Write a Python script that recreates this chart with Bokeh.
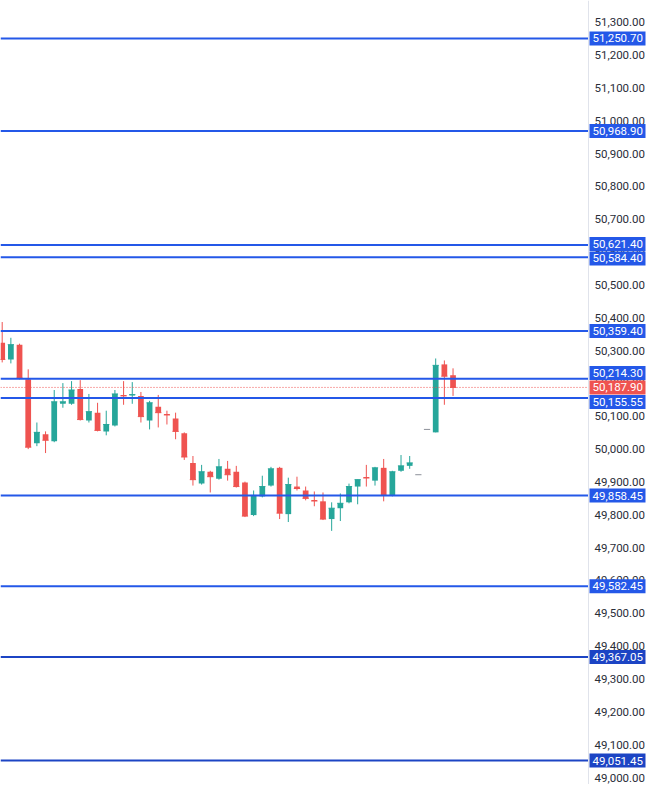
from bokeh.plotting import figure
from bokeh.models import Range1d, Span, ColumnDataSource
from bokeh.core.properties import value
from bokeh.embed import file_html
from bokeh.resources import INLINE

# ---------------- data ----------------
opens = [50324, 50273, 50318, 50213, 50018, 50045, 50024, 50138, 50138, 50183,
         50087, 50111, 50054, 50072, 50165, 50163, 50162, 50087, 50129, 50107,
         50093, 50048, 49958, 49895, 49931, 49910, 49940, 49931, 49898, 49799,
         49856, 49889, 49943, 49802, 49886, 49874, 49845, 49841, 49787, 49820,
         49838, 49886, 49915, 49904, 49943, 49859, 49934, 49949, 49922, 50060,
         50051, 50258, 50225]
closes = [50273, 50318, 50216, 50006, 50051, 50027, 50144, 50144, 50180, 50090,
          50114, 50057, 50075, 50168, 50162, 50166, 50099, 50141, 50111, 50104,
          50054, 49976, 49907, 49931, 49916, 49946, 49922, 49886, 49796, 49859,
          49886, 49940, 49805, 49892, 49880, 49850, 49842, 49787, 49820, 49835,
          49886, 49907, 49912, 49943, 49859, 49931, 49949, 49958, 49922, 50060,
          50255, 50222, 50187.9]
highs = [50387, 50339, 50321, 50243, 50081, 50054, 50180, 50201, 50207, 50210,
         50168, 50141, 50117, 50180, 50207, 50204, 50174, 50147, 50165, 50117,
         50111, 50051, 49979, 49952, 49934, 49970, 49964, 49949, 49901, 49874,
         49919, 49946, 49946, 49913, 49916, 49886, 49871, 49868, 49838, 49865,
         49895, 49907, 49952, 49946, 49970, 49934, 49982, 49979, 49922, 50060,
         50276, 50270, 50246]
lows = [50264, 50261, 50212, 50000, 50009, 49988, 50021, 50126, 50135, 50087,
        50081, 50054, 50042, 50069, 50135, 50138, 50081, 50060, 50066, 50075,
        50030, 49967, 49889, 49892, 49868, 49907, 49904, 49883, 49793, 49796,
        49853, 49886, 49787, 49778, 49874, 49844, 49826, 49784, 49751, 49781,
        49835, 49832, 49886, 49889, 49841, 49856, 49931, 49940, 49922, 50060,
        50051, 50135, 50162]

levels = [51250.70, 50968.90, 50621.40, 50584.40, 50359.40, 50214.30,
          50155.55, 49858.45, 49582.45, 49367.05, 49051.45]
current_price = 50187.90
tick_values = [49000 + 100 * k for k in range(24)]

# ---------------- style / layout ----------------
UP = "#26a69a"
DOWN = "#ef5350"
FLAT = "#8c9099"
LEVEL = "#2458e8"
LEVEL_DARK = "#1c44c4"
dark_levels = [49367.05, 49051.45]
FONT = "Roboto"

W, H = 646, 784
BAR_PX = 8.67          # pixel spacing of candles
X0_PX = 1.7            # pixel position of first candle
DIV_PX = 588           # price-scale divider
y0, y1 = 48978.7, 51366.1


def px_to_x(px):
    return (px - X0_PX) / BAR_PX


x_start, x_end = px_to_x(0), px_to_x(W)
x_div = px_to_x(DIV_PX)
px_per_unit = H / (y1 - y0)

p = figure(width=W, height=H,
           x_range=Range1d(x_start, x_end), y_range=Range1d(y0, y1),
           output_backend="svg", toolbar_location=None,
           x_axis_location=None, y_axis_location=None,
           min_border=0)
p.grid.visible = False
p.outline_line_color = None
p.background_fill_color = "white"
p.border_fill_color = "white"

# candles
idx = list(range(len(opens)))
cols = [UP if c > o else (DOWN if c < o else FLAT) for o, c in zip(opens, closes)]
src = ColumnDataSource(dict(
    x=idx, o=opens, c=closes, h=highs, l=lows, col=cols,
    top=[max(o, c) for o, c in zip(opens, closes)],
    bot=[min(o, c) for o, c in zip(opens, closes)],
    xl=[i - 0.36 for i in idx], xr=[i + 0.36 for i in idx],
))
p.segment(x0="x", y0="h", x1="x", y1="l", color="col", line_width=1, source=src)
p.vbar(x="x", width=0.66, top="top", bottom="bot", fill_color="col",
       line_color=None, source=src)
p.segment(x0="xl", y0="c", x1="xr", y1="c", color="col", line_width=1, source=src)

# level lines (stop at the price scale)
lvl_cols = [LEVEL_DARK if lv in dark_levels else LEVEL for lv in levels]
p.segment(x0=[x_start] * len(levels), x1=[x_div] * len(levels), y0=levels, y1=levels,
          color=lvl_cols, line_width=2)
p.segment(x0=[x_start], x1=[x_div], y0=[current_price], y1=[current_price],
          color=DOWN, line_width=1, line_dash="1 2")

# price scale
p.add_layout(Span(location=x_div, dimension="height", line_color="#e0e3eb", line_width=1))
p.text(x=[px_to_x(DIV_PX + 6)] * len(tick_values), y=tick_values,
       text=[f"{t:,.2f}" for t in tick_values],
       text_font=value(FONT), text_font_size="11.5px", text_color="#2a2e39",
       text_align="left", text_baseline="middle")

# price tags with simple collision avoidance (current price stays fixed)
TAG_H = 14.0
sep = 14.5 / px_per_unit
half = TAG_H / 2 / px_per_unit
tags = [(lv, c, False) for lv, c in zip(levels, lvl_cols)]
tags.append((current_price, DOWN, True))
tags.sort(key=lambda t: t[0])
pos = [t[0] for t in tags]
for _ in range(200):
    for k in range(len(pos) - 1):
        gap = pos[k + 1] - pos[k]
        if gap < sep:
            d = sep - gap
            fa, fb = tags[k][2], tags[k + 1][2]
            if fa:
                pos[k + 1] += d
            elif fb:
                pos[k] -= d
            else:
                pos[k] -= d / 2
                pos[k + 1] += d / 2

p.quad(left=[px_to_x(DIV_PX + 1)] * len(tags), right=[px_to_x(W - 1)] * len(tags),
       top=[v + half for v in pos], bottom=[v - half for v in pos],
       fill_color=[t[1] for t in tags], line_color=None)
p.text(x=[px_to_x(DIV_PX + 4)] * len(tags), y=pos,
       text=[f"{t[0]:,.2f}" for t in tags],
       text_font=value(FONT), text_font_size="11.5px", text_color="white",
       text_align="left", text_baseline="middle")

open("out.html", "w").write(file_html(p, INLINE))
